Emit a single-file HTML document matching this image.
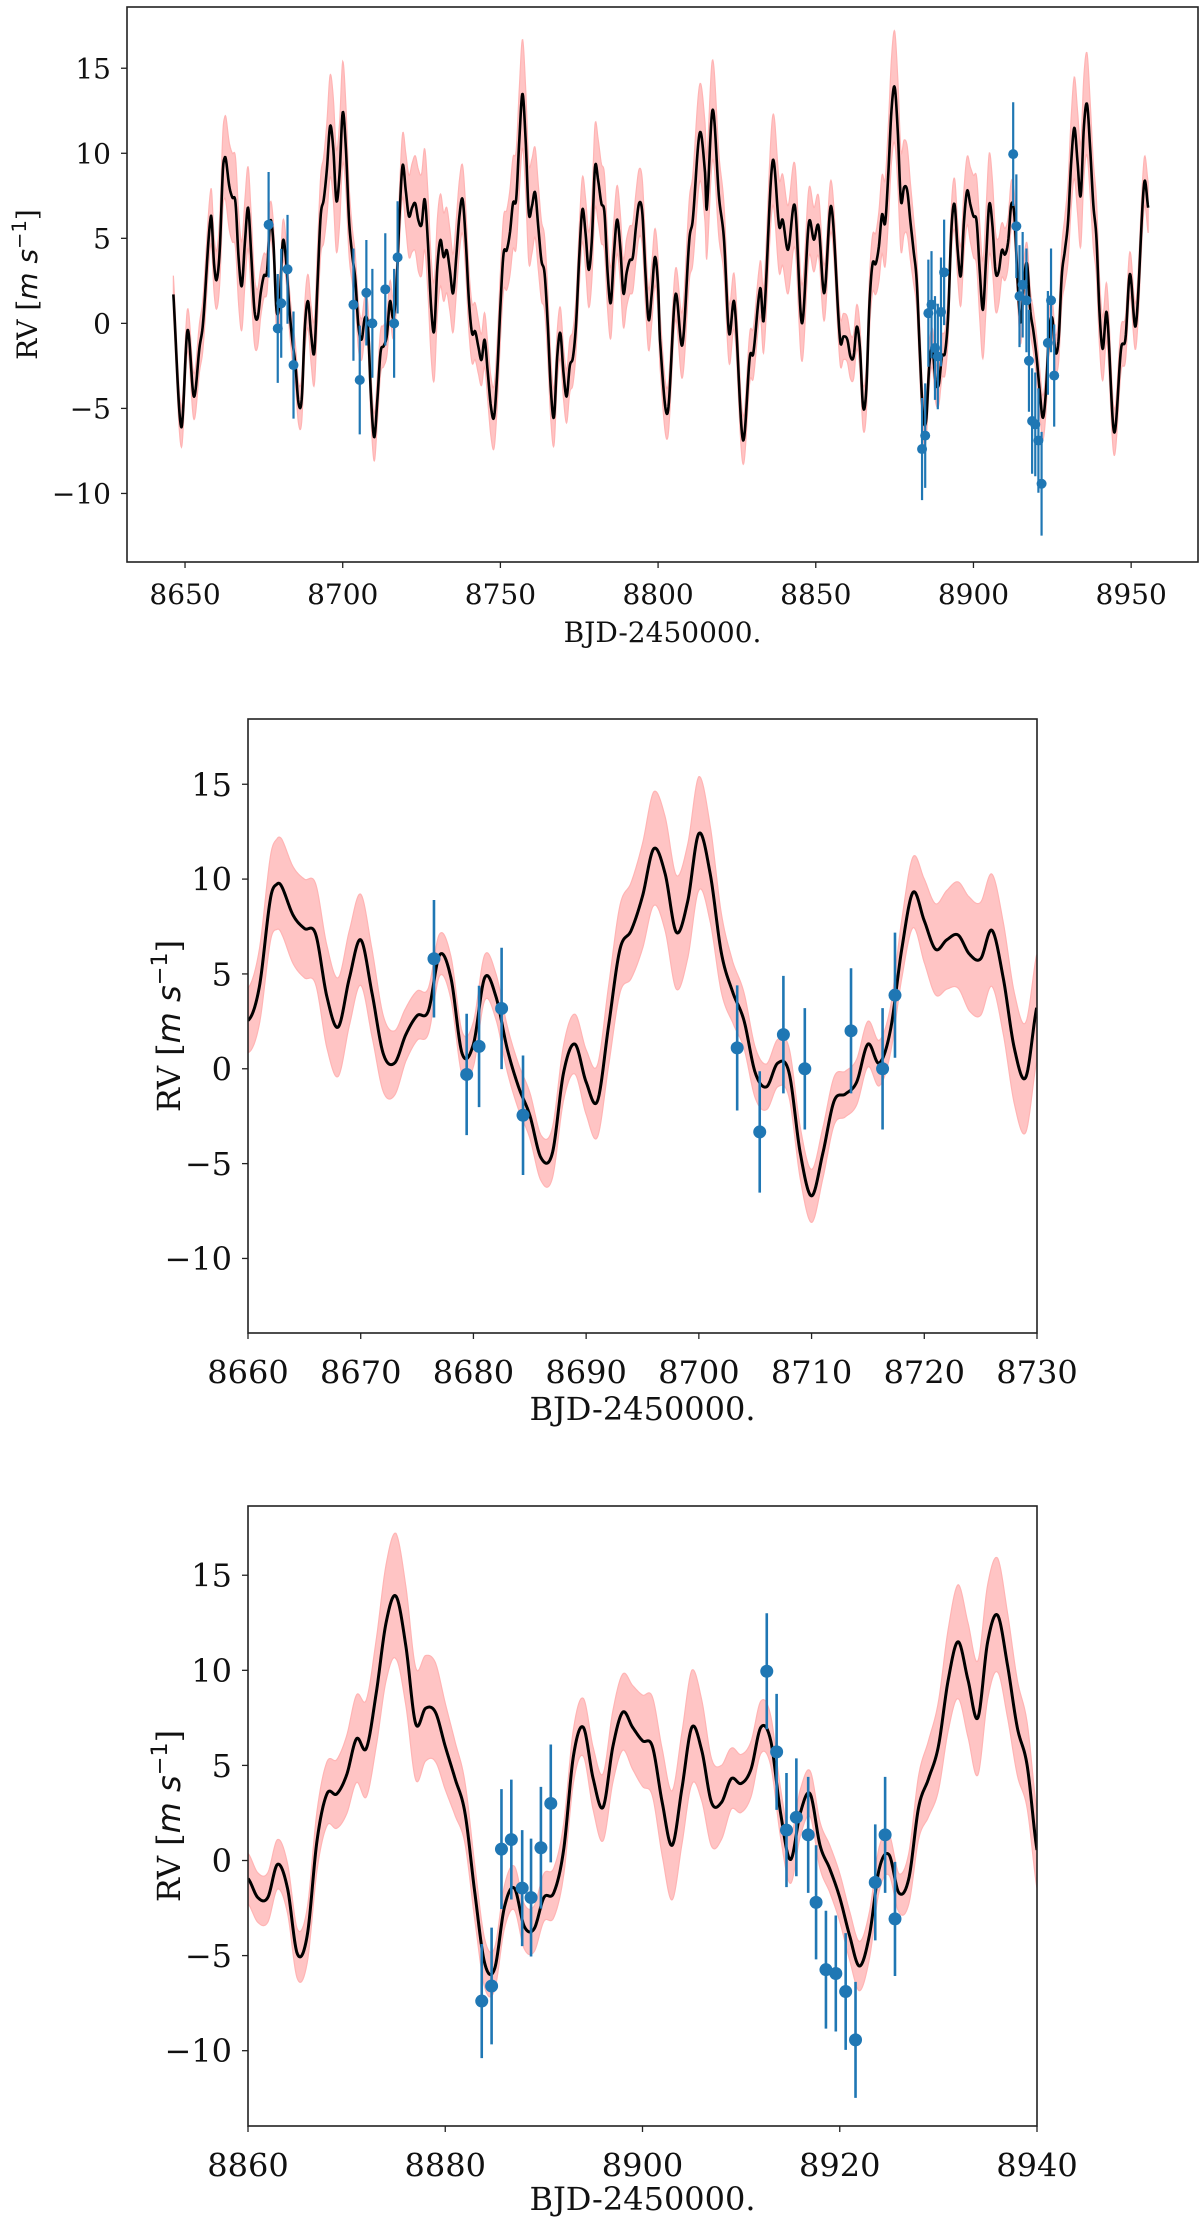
<!DOCTYPE html>
<html><head><meta charset="utf-8">
<style>
html,body{margin:0;padding:0;background:#fff;}
svg{display:block;font-family:"DejaVu Serif","Liberation Serif",serif;}
</style></head>
<body>
<svg id="fig" width="1200" height="2218" viewBox="0 0 1200 2218" xmlns="http://www.w3.org/2000/svg"></svg>
<script>
// GP mean model knots (time, RV)
const meanT = [8646.3,8648.8,8650.8,8652.8,8654.6,8655.7,8658.2,8659.2,
8660,8661,8662,8662.6,8663,8664,8665,8666,8667,8668,8669,8670,8671,8672,8673,8674,8675,8676,8677,8678,8679,8680,8681,8682,8683,8684,8685,8686,8687,8688,8689,8690,8691,8692,8693,8694,8695,8696,8697,8698,8699,8700,8701,8702,8703,8704,8705,8706,8707,8708,8709,8710,8711,8712,8713,8714,8715,8716,8717,8718,8719,8720,8721,8722,8723,8724,8725,8726,8727,8728,8729,8730,
8731,8732,8733,8734,8735,8736,8737,8738,8739,8740,8741,8742,8743,8744,8745,8746,8747,8748,8749,8750,8751,8752,8753,8754,8755,8756,8757,8758,8759,8760,8761,8762,8763,8764,8765,8766,8767,8768,8769,8770,8771,8772,8773,8774,8775,8776,8777,8778,8779,8780,8781,8782,8783,8784,8785,8786,8787,8788,8789,8790,8791,8792,8793,8794,8795,8796,8797,8798,8799,8800,
8800.6,8803.0,8805.5,8807.7,8809.9,8811.0,8813.2,8814.9,8815.4,8817.3,8819.3,8820.9,8822.5,8824.2,8826.9,8829.1,8830.2,8832.4,8833.5,8836.3,8838.4,8839.5,8841.2,8843.4,8845.6,8847.8,8849.4,8850.9,8852.7,8854.9,8857.7,8858.8,
8860,8861,8862,8863,8864,8865,8866,8867,8868,8869,8870,8871,8872,8873,8874,8875,8876,8877,8878,8879,8880,8881,8882,8883,8884,8885,8886,8887,8888,8889,8890,8891,8892,8893,8894,8895,8896,8897,8898,8899,8900,8901,8902,8903,8904,8905,8906,8907,8908,8909,8910,8911,8912,8913,8914,8915,8916,8917,8918,8919,8920,8921,8922,8923,8924,8925,8926,8927,8928,8929,8930,8931,8932,8933,8934,8935,8936,8937,8938,8939,8940,
8941,8942.3,8944.6,8946.8,8948.2,8949.6,8951.5,8954.1,8955.4];
const meanV = [1.7,-6.1,-0.4,-4.3,-1.4,0.0,6.3,3.5,
2.55,4.3,9.0,9.75,9.6,8.1,7.4,7.1,3.8,2.2,4.8,6.8,4.0,0.8,0.3,1.8,2.8,3.05,6.0,4.8,0.8,1.3,4.8,3.8,1.05,-0.95,-2.45,-4.7,-4.45,-0.2,1.3,-0.7,-1.7,2.3,6.3,7.3,9.1,11.6,10.3,7.2,8.8,12.4,10.3,6.1,4.05,2.55,-0.2,-0.95,0.3,-0.2,-4.45,-6.7,-4.45,-1.7,-1.33,-0.7,1.3,0.3,2.05,6.3,9.3,7.8,6.3,6.8,7.05,6.05,5.8,7.3,4.8,1.05,-0.45,3.3,
4.9,3.9,4.3,3.1,1.77,3.9,6.3,7.3,4.9,1.4,-0.57,-0.47,-1.36,-2.15,-0.97,-2.9,-4.9,-5.5,-2.9,1.0,4.1,4.3,5.3,7.07,7.3,10.8,13.5,10.8,6.5,6.9,7.7,5.7,3.7,2.95,0.0,-3.9,-5.5,-2.0,-0.57,-2.9,-4.3,-2.5,-2.0,0.0,3.9,6.7,5.3,3.15,4.9,9.2,8.4,7.07,6.5,2.95,1.2,4.1,6.1,4.5,1.77,2.95,3.7,3.9,5.7,7.07,6.5,2.95,0.2,1.77,3.9,2.2,
-0.97,-5.28,1.68,-1.26,4.92,6.09,11.19,8.84,6.68,12.56,7.46,4.92,-0.57,1.19,-6.85,-1.95,-1.75,2.07,0.21,9.52,5.7,6.09,4.33,6.88,0.01,5.9,4.92,5.7,1.78,6.88,-0.97,-0.77,
-0.95,-1.95,-1.95,-0.2,-1.45,-4.9,-3.95,1.05,3.5,3.5,4.5,6.4,5.9,8.8,12.5,13.9,11.3,7.2,8.0,7.8,6.0,4.3,2.5,-1.7,-5.4,-5.7,-2.45,-1.45,-3.45,-3.6,-1.95,-1.7,0.55,5.5,7.0,4.3,2.8,6.0,7.8,7.0,6.3,6.0,3.05,0.8,3.8,7.0,5.8,3.05,3.05,4.3,4.05,4.8,7.0,6.3,2.5,0.05,2.5,3.5,0.8,-0.45,-1.95,-3.95,-5.55,-3.95,-0.45,0.3,-1.7,-0.95,2.8,4.3,6.0,9.5,11.5,9.5,7.5,11.5,12.9,10.3,7.0,5.0,0.55,
-1.5,0.6,-6.4,-1.5,-0.9,2.9,-0.1,8.2,6.8];
// GP 1-sigma band knots
const sigT = [8646,8650,8656,8660,8663,8667,8671,8674,8677,8681,8686,8690,8693,8696,8700,8703,8706,8710,8713,8717,8720,8724,8729,8733,8738,8744,8750,8757,8762,8768,8774,8780,8786,8794,8800,8805,8812,8817,8822,8827,8832,8837,8843,8848,8853,8857,8861,8865,8869,8875,8879,8882,8885,8889,8893,8898,8902,8905,8909,8913,8917,8922,8926,8929,8932,8936,8940,8945,8950,8956];
const sigV = [1.1,1.2,1.5,1.7,2.5,2.7,2.3,1.4,1.1,1.2,1.2,1.7,2.3,3.0,3.0,1.6,1.2,1.4,1.2,1.2,2.2,3.0,2.9,2.5,2.0,1.5,2.0,3.2,2.5,1.5,1.6,2.5,2.0,2.0,1.6,1.4,2.8,3.0,1.8,1.4,1.5,2.8,2.5,2.0,1.6,1.4,1.3,1.3,1.8,3.3,2.6,1.6,1.1,1.2,1.4,2.0,2.8,3.0,1.6,1.3,1.2,1.3,1.0,2.0,3.0,3.0,2.0,1.3,1.3,1.5];
// Observations
const obsT = [8676.5,8679.4,8680.5,8682.5,8684.4,8703.4,8705.4,8707.5,8709.4,8713.5,8716.3,8717.4,
8883.7,8884.7,8885.7,8886.7,8887.8,8888.7,8889.7,8890.7,8912.6,8913.6,8914.6,8915.6,8916.8,8917.6,8918.6,8919.6,8920.6,8921.6,8923.6,8924.6,8925.6];
const obsV = [5.8,-0.3,1.18,3.18,-2.45,1.1,-3.33,1.8,0.0,2.0,0.0,3.88,
-7.39,-6.6,0.6,1.1,-1.45,-1.95,0.67,3.0,9.95,5.71,1.6,2.27,1.35,-2.2,-5.74,-5.94,-6.89,-9.43,-1.15,1.35,-3.07];
const obsE = [3.1,3.2,3.2,3.2,3.15,3.3,3.2,3.1,3.2,3.3,3.2,3.3,
3.0,3.07,3.15,3.15,3.05,3.1,3.2,3.1,3.05,3.05,3.0,3.1,3.05,3.0,3.1,3.05,3.07,3.05,3.05,3.05,3.0];
const yTicks = [-10,-5,0,5,10,15];
const xTicks1 = [8650,8700,8750,8800,8850,8900,8950];
const xTicks2 = [8660,8670,8680,8690,8700,8710,8720,8730];
const xTicks3 = [8860,8880,8900,8920,8940];

const NS = "http://www.w3.org/2000/svg";
const svg = document.getElementById('fig');
function mk(tag, attrs, parent){const e=document.createElementNS(NS,tag);for(const k in attrs)e.setAttribute(k,attrs[k]);(parent||svg).appendChild(e);return e;}

function hermite(T,V,t){
  const n=T.length;
  if(t<=T[0])return V[0]; if(t>=T[n-1])return V[n-1];
  let i=0; while(T[i+1]<t)i++;
  const slope=(k)=>{ if(k<=0)return (V[1]-V[0])/(T[1]-T[0]); if(k>=n-1)return (V[n-1]-V[n-2])/(T[n-1]-T[n-2]); return (V[k+1]-V[k-1])/(T[k+1]-T[k-1]);};
  const h=T[i+1]-T[i], s=(t-T[i])/h;
  const m0=slope(i)*h, m1=slope(i+1)*h;
  const s2=s*s,s3=s2*s;
  return (2*s3-3*s2+1)*V[i]+(s3-2*s2+s)*m0+(-2*s3+3*s2)*V[i+1]+(s3-s2)*m1;
}
function lin(T,V,t){const n=T.length;if(t<=T[0])return V[0];if(t>=T[n-1])return V[n-1];let i=0;while(T[i+1]<t)i++;const s=(t-T[i])/(T[i+1]-T[i]);return V[i]+s*(V[i+1]-V[i]);}

const panels = [
 {id:'overview',L:127,R:1198,T:7,B:562,x0:8631.6,x1:8971.2,y0:-14.03,y1:18.6,fs:28,xt:xTicks1,lw:2.6,r:5,ew:2.2,ylx:37,xly:642,xty:594},
 {id:'zoom-early',L:248,R:1037,T:719,B:1333,x0:8660,x1:8730,y0:-13.93,y1:18.44,fs:32,xt:xTicks2,lw:3,r:6.5,ew:2.6,ylx:180,xly:1420,xty:1372},
 {id:'zoom-late',L:248,R:1037,T:1506,B:2126,x0:8860,x1:8940,y0:-13.96,y1:18.64,fs:32,xt:xTicks3,lw:3,r:6.5,ew:2.6,ylx:180,xly:2210,xty:2165}
];

panels.forEach((p,pi)=>{
  const xs=t=>p.L+(t-p.x0)/(p.x1-p.x0)*(p.R-p.L);
  const ys=v=>p.B-(v-p.y0)/(p.y1-p.y0)*(p.B-p.T);
  const g=mk('g',{});
  
  
  const cp=mk('clipPath',{id:'clip'+pi},g);
  mk('rect',{x:p.L,y:p.T,width:p.R-p.L,height:p.B-p.T},cp);
  const plot=mk('g',{'clip-path':'url(#clip'+pi+')'},g);
  const tmin=Math.max(p.x0,meanT[0]), tmax=Math.min(p.x1,meanT[meanT.length-1]);
  const step=(tmax-tmin)/2400;
  let up=[],lo=[],mp=[];
  for(let t=tmin;t<=tmax+1e-9;t+=step){
    const m=hermite(meanT,meanV,t), s=lin(sigT,sigV,t);
    up.push(xs(t).toFixed(2)+','+ys(m+s).toFixed(2));
    lo.push(xs(t).toFixed(2)+','+ys(m-s).toFixed(2));
    mp.push(xs(t).toFixed(2)+','+ys(m).toFixed(2));
  }
  const band=mk('polygon',{points:up.concat(lo.reverse()).join(' '),fill:'#ffc4c4',stroke:'#ffb4b4','stroke-width':1.2},plot);
  
  
  const line=mk('polyline',{points:mp.join(' '),fill:'none',stroke:'#000','stroke-width':p.lw,'stroke-linejoin':'round'},plot);
  
  
  for(let i=0;i<obsT.length;i++){
    if(obsT[i]<p.x0||obsT[i]>p.x1)continue;
    const x=xs(obsT[i]);
    const eb=mk('line',{x1:x,x2:x,y1:ys(obsV[i]-obsE[i]),y2:ys(obsV[i]+obsE[i]),stroke:'#1f77b4','stroke-width':p.ew},plot);
    
    
    const c=mk('circle',{cx:x,cy:ys(obsV[i]),r:p.r,fill:'#1f77b4'},plot);
    
    
  }
  const fr=mk('rect',{x:p.L,y:p.T,width:p.R-p.L,height:p.B-p.T,fill:'none',stroke:'#222','stroke-width':1.6},g);
  
  
  yTicks.forEach(v=>{
    const y=ys(v);
    mk('line',{x1:p.L-6,x2:p.L,y1:y,y2:y,stroke:'#222','stroke-width':1.3},g);
    const tx=mk('text',{x:p.L-16,y:y+p.fs*0.36,'font-size':p.fs,'text-anchor':'end',fill:'#111'},g);
    tx.textContent=(v<0?'\u2212':'')+Math.abs(v);
    
    
  });
  p.xt.forEach(t=>{
    const x=xs(t);
    mk('line',{x1:x,x2:x,y1:p.B,y2:p.B+6,stroke:'#222','stroke-width':1.3},g);
    const tx=mk('text',{x:x,y:p.xty+p.fs*0.36,'font-size':p.fs,'text-anchor':'middle',fill:'#111'},g);
    tx.textContent=String(t);
    
    
  });
  const xl=mk('text',{x:(p.L+p.R)/2,y:p.xly,'font-size':p.fs,'text-anchor':'middle',fill:'#111'},g);
  xl.textContent='BJD-2450000.';
  
  
  const cy=(p.T+p.B)/2;
  const yl=mk('text',{x:0,y:0,'font-size':p.fs,'text-anchor':'middle',fill:'#111',transform:'translate('+p.ylx+','+cy+') rotate(-90)'},g);
  
  
  const a=mk('tspan',{},yl); a.textContent='RV [';
  const b=mk('tspan',{'font-family':'DejaVu Sans, sans-serif','font-style':'italic'},yl); b.textContent='m s';
  const c2=mk('tspan',{'font-family':'DejaVu Sans, sans-serif','font-size':p.fs*0.7,dy:-p.fs*0.4},yl); c2.textContent='\u22121';
  const d=mk('tspan',{dy:p.fs*0.4},yl); d.textContent=']';
});
</script>
</body></html>
